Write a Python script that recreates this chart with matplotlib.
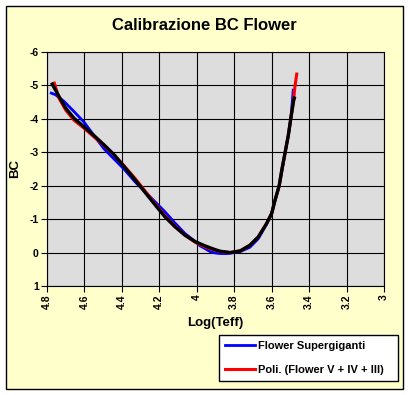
import matplotlib
matplotlib.use("Agg")
import matplotlib.pyplot as plt
from matplotlib.patches import Rectangle

plt.rcParams["font.family"] = ["Liberation Sans", "DejaVu Sans"]
plt.rcParams["font.weight"] = "bold"

# Flower Supergiganti (blue)
teff_blue = [4.777, 4.754, 4.709, 4.656, 4.602, 4.549, 4.495, 4.442, 4.389,
             4.330, 4.300, 4.276, 4.223, 4.170, 4.116, 4.063, 4.009, 3.982,
             3.956, 3.929, 3.903, 3.875, 3.840, 3.822, 3.768, 3.716, 3.671,
             3.627, 3.600, 3.582, 3.560, 3.546, 3.528, 3.511, 3.498, 3.490, 3.485]
bc_blue = [-4.77, -4.72, -4.52, -4.22, -3.90, -3.50, -3.10, -2.80, -2.50,
           -2.12, -1.95, -1.82, -1.52, -1.22, -0.88, -0.57, -0.33, -0.20,
           -0.12, -0.03, 0.01, 0.03, 0.03, 0.02, -0.03, -0.16, -0.42,
           -0.85, -1.17, -1.55, -1.98, -2.40, -3.00, -3.50, -4.00, -4.50, -4.86]

# Poli. (Flower V + IV + III) (red)
teff_red = [4.761, 4.736, 4.700, 4.656, 4.602, 4.549, 4.495, 4.442, 4.389,
            4.330, 4.276, 4.223, 4.170, 4.116, 4.063, 4.009, 3.956, 3.903,
            3.875, 3.822, 3.768, 3.716, 3.671, 3.627, 3.600, 3.582, 3.560,
            3.546, 3.528, 3.511, 3.498, 3.484, 3.475, 3.466]
bc_red = [-5.07, -4.62, -4.26, -3.96, -3.72, -3.46, -3.20, -2.92, -2.60,
          -2.22, -1.84, -1.46, -1.10, -0.79, -0.52, -0.31, -0.17, -0.07,
          -0.03, 0.00, -0.05, -0.22, -0.47, -0.87, -1.17, -1.57, -2.00,
          -2.47, -3.00, -3.51, -4.00, -4.51, -5.00, -5.34]

# third curve (black)
teff_black = [4.772, 4.736, 4.700, 4.656, 4.602, 4.549, 4.495, 4.442, 4.389,
              4.330, 4.276, 4.223, 4.170, 4.116, 4.063, 4.009, 3.956, 3.903,
              3.875, 3.822, 3.768, 3.716, 3.671, 3.627, 3.600, 3.582, 3.560,
              3.546, 3.528, 3.511, 3.498, 3.484, 3.479]
bc_black = [-5.04, -4.67, -4.32, -4.02, -3.76, -3.50, -3.22, -2.93, -2.58,
            -2.18, -1.80, -1.43, -1.07, -0.77, -0.52, -0.33, -0.20, -0.09,
            -0.04, 0.00, -0.05, -0.22, -0.47, -0.87, -1.17, -1.57, -2.00,
            -2.47, -3.00, -3.51, -4.00, -4.51, -4.62]

xticks = [4.8, 4.6, 4.4, 4.2, 4.0, 3.8, 3.6, 3.4, 3.2, 3.0]
xticklabels = ["4.8", "4.6", "4.4", "4.2", "4", "3.8", "3.6", "3.4", "3.2", "3"]
yticks = [-6, -5, -4, -3, -2, -1, 0, 1]

W, H = 408, 395
fig = plt.figure(figsize=(W / 100, H / 100), dpi=100, facecolor="white")

# chart area
fig.patches.append(Rectangle((6 / W, 1 - 389 / H), 397 / W, 383 / H,
                             transform=fig.transFigure, facecolor="#FFFFCC",
                             edgecolor="black", linewidth=1.0, zorder=-10))

ax = fig.add_axes([47 / W, 1 - 286 / H, 337 / W, 234 / H])
ax.set_zorder(1)
ax.set_facecolor("#DDDDDD")

ax.plot(teff_blue, bc_blue, color="#0000FF", lw=2.0, label="Flower Supergiganti", zorder=3)
ax.plot(teff_red, bc_red, color="#FF0000", lw=2.2, label="Poli. (Flower V + IV + III)", zorder=4)
ax.plot(teff_black, bc_black, color="black", lw=2.4, zorder=5)

ax.set_xlim(4.8, 3.0)
ax.set_ylim(1, -6)
ax.set_xticks(xticks)
ax.set_xticklabels(xticklabels, rotation=90, fontsize=7.5, fontweight="bold")
ax.set_yticks(yticks)
ax.set_yticklabels([str(v) for v in yticks], fontsize=7.5, fontweight="bold")
ax.tick_params(direction="out", length=4, width=0.8, pad=2, colors="black")
ax.grid(True, color="black", linewidth=0.8)
ax.set_axisbelow(True)
for s in ax.spines.values():
    s.set_color("black")
    s.set_linewidth(0.8)

ax.set_xlabel("Log(Teff)", fontsize=9.5, fontweight="bold", labelpad=6)
ax.set_ylabel("BC", fontsize=9.5, fontweight="bold", labelpad=6)

fig.text(204 / W, 1 - 26 / H, "Calibrazione BC Flower", ha="center", va="center",
         fontsize=12, fontweight="bold")

leg = fig.legend(loc="upper left", bbox_to_anchor=(219 / W, 1 - 339 / H, 179 / W, 0.01),
                 mode="expand", fontsize=8, frameon=True, fancybox=False,
                 edgecolor="black", facecolor="white", framealpha=1,
                 borderpad=0.5, labelspacing=1.3, handlelength=2.7,
                 handletextpad=0.3, borderaxespad=0)
leg.get_frame().set_linewidth(1.0)
leg.set_zorder(5)
for t in leg.get_texts():
    t.set_fontweight("bold")

fig.savefig("out.png", dpi=100, facecolor="white")
